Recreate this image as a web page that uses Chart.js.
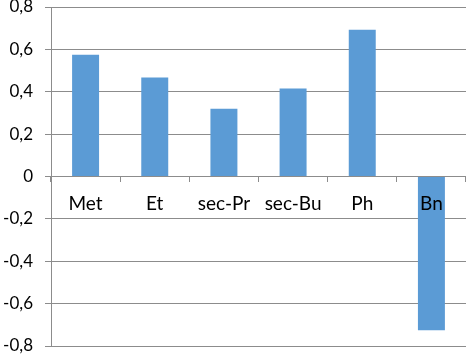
<!DOCTYPE html>
<html>
<head>
<meta charset="utf-8">
<script src="https://cdn.jsdelivr.net/npm/chart.js@4"></script>
<style>
  html, body { margin: 0; padding: 0; background: #fff; }
  #wrap { width: 466px; height: 356px; }
</style>
</head>
<body>
<div id="wrap"><canvas id="chart"></canvas></div>
<script>
// values
var categories = ['Met', 'Et', 'sec-Pr', 'sec-Bu', 'Ph', 'Bn'];
var values = [0.575, 0.467, 0.32, 0.415, 0.693, -0.726];
var yTicks = [-0.8, -0.6, -0.4, -0.2, 0, 0.2, 0.4, 0.6, 0.8];

var GRID = '#8c8c8c';

function fmt(v) {
    var r = Math.round(v * 10) / 10;
    if (r === 0) return '0';
    return r.toFixed(1).replace('.', ',');
}

window.onload = function () {
    var ctx = document.getElementById('chart').getContext('2d');
    new Chart(ctx, {
        type: 'bar',
        data: {
            labels: categories,
            datasets: [{
                data: values,
                backgroundColor: '#5b9bd5',
                borderWidth: 0,
                barPercentage: 0.39,
                categoryPercentage: 1
            }]
        },
        options: {
            responsive: true,
            maintainAspectRatio: false,
            animation: false,
            layout: { padding: { top: 7, right: 0, bottom: 10, left: 0 } },
            plugins: {
                legend: { display: false },
                tooltip: { enabled: false }
            },
            scales: {
                x: {
                    position: { y: 0 },
                    afterFit: function (scale) {
                        scale.height = 0;
                        scale.paddingLeft = 0;
                        scale.paddingRight = 0;
                    },
                    grid: {
                        offset: true,
                        drawOnChartArea: false,
                        drawTicks: true,
                        tickLength: 5,
                        color: GRID
                    },
                    border: { display: true, color: GRID },
                    ticks: {
                        z: 1,
                        color: '#000',
                        padding: 11,
                        maxRotation: 0,
                        autoSkip: false,
                        font: { family: 'Lato', size: 19 }
                    }
                },
                y: {
                    min: -0.8,
                    max: 0.8,
                    afterFit: function (scale) {
                        scale.width = 51;
                        scale.paddingTop = 0;
                        scale.paddingBottom = 0;
                    },
                    afterBuildTicks: function (scale) {
                        scale.ticks = yTicks.map(function (v) { return { value: v }; });
                    },
                    grid: {
                        color: GRID,
                        tickLength: 6,
                        drawTicks: true
                    },
                    border: { display: true, color: GRID },
                    ticks: {
                        color: '#000',
                        padding: 12,
                        font: { family: 'Lato', size: 17 },
                        callback: function (v) { return fmt(v); }
                    }
                }
            }
        }
    });
};
</script>
</body>
</html>
